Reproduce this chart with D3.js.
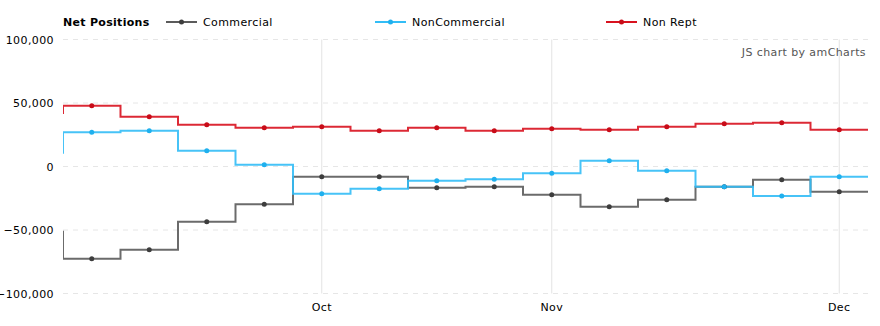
<!DOCTYPE html>
<html>
<head>
<meta charset="utf-8">
<script src="https://cdn.jsdelivr.net/npm/d3@7/dist/d3.min.js"></script>
<style>
  html, body { margin: 0; padding: 0; background: #fff; }
  svg text { font-family: Verdana, "DejaVu Sans", sans-serif; font-size: 11px; letter-spacing: 0.4px; }
</style>
</head>
<body>
<svg id="chart" width="880" height="326"></svg>
<script>
// Weekly report dates (first one only feeds the opening step at the left edge)
const dates = ["2016-08-30", "2016-09-06", "2016-09-13", "2016-09-20", "2016-09-27",
  "2016-10-04", "2016-10-11", "2016-10-18", "2016-10-25", "2016-11-01",
  "2016-11-08", "2016-11-15", "2016-11-22", "2016-11-29", "2016-12-06"];

// Net positions per group
const commercial = [-51300, -72600, -65500, -43500, -29800, -8000, -8000, -16700, -15900,
  -22200, -31700, -26100, -15900, -10400, -19800];
const nonCommercial = [10900, 26900, 28200, 12400, 1400, -21400, -17500, -11200, -10100,
  -5400, 4600, -3300, -15900, -23200, -8000];
const nonRept = [42100, 47900, 39200, 32900, 30500, 31300, 28200, 30600, 28200,
  29800, 29000, 31300, 33700, 34500, 29000];

const seriesNames = ["Commercial", "NonCommercial", "Non Rept"];
const seriesColors = ["#5b5b5b", "#33bdf6", "#d8121f"];
const bulletColors = ["#3d3d3d", "#1fb0ee", "#c80c18"];

const yTicks = [100000, 50000, 0, -50000, -100000];
const monthTickDates = ["2016-10-04", "2016-11-01", "2016-12-06"];
const monthTickLabels = ["Oct", "Nov", "Dec"];

const svg = d3.select("#chart");
const plot = { left: 63, right: 868, top: 39.5, bottom: 293.5 };
const visibleCount = dates.length - 1;
const band = (plot.right - plot.left) / visibleCount;

const x = d3.scaleBand().domain(dates).range([plot.left - band, plot.right]).padding(0);
const y = d3.scaleLinear().domain([-100000, 100000]).range([plot.bottom, plot.top]);

svg.append("defs").append("clipPath").attr("id", "plotClip")
  .append("rect")
  .attr("x", plot.left).attr("y", plot.top - 5)
  .attr("width", plot.right - plot.left).attr("height", plot.bottom - plot.top + 10);

// Horizontal dashed grid
svg.append("g").selectAll("line").data(yTicks).join("line")
  .attr("x1", plot.left).attr("x2", plot.right)
  .attr("y1", d => y(d)).attr("y2", d => y(d))
  .attr("stroke", "#e6e6e6").attr("stroke-width", 1)
  .attr("stroke-dasharray", "5,5");

// Vertical month grid
svg.append("g").selectAll("line").data(monthTickDates).join("line")
  .attr("x1", d => x(d) + x.bandwidth() / 2).attr("x2", d => x(d) + x.bandwidth() / 2)
  .attr("y1", plot.top).attr("y2", plot.bottom)
  .attr("stroke", "#e3e3e3").attr("stroke-width", 1);

// Y axis labels
const yAxis = d3.axisLeft(y).tickValues(yTicks).tickFormat(d3.format(",")).tickSize(0).tickPadding(0);
const yg = svg.append("g").attr("transform", `translate(${plot.left - 9},0)`).call(yAxis);
yg.select(".domain").remove();
yg.selectAll("text").attr("fill", "#000")
  .style("font-family", "Verdana, 'DejaVu Sans', sans-serif")
  .style("font-size", "11px").style("letter-spacing", "0.4px");

// X axis month labels
svg.append("g").selectAll("text").data(monthTickDates).join("text")
  .attr("x", d => x(d) + x.bandwidth() / 2)
  .attr("y", 311)
  .attr("text-anchor", "middle")
  .attr("fill", "#000")
  .text((d, i) => monthTickLabels[i]);

// Step lines
const allSeries = [commercial, nonCommercial, nonRept];
const stepLine = d3.line()
  .x(d => d.x)
  .y(d => y(d.v))
  .curve(d3.curveStepAfter);

const lines = svg.append("g").attr("clip-path", "url(#plotClip)");
allSeries.forEach((vals, si) => {
  const pts = vals.map((v, i) => ({ x: x(dates[i]), v }));
  pts.push({ x: x(dates[dates.length - 1]) + x.bandwidth(), v: vals[vals.length - 1] });
  lines.append("path")
    .attr("d", stepLine(pts))
    .attr("fill", "none")
    .attr("stroke", seriesColors[si])
    .attr("stroke-width", 2)
    .attr("stroke-opacity", 0.9);
});
allSeries.forEach((vals, si) => {
  lines.append("g").selectAll("circle").data(vals).join("circle")
    .attr("cx", (v, i) => x(dates[i]) + x.bandwidth() / 2)
    .attr("cy", v => y(v))
    .attr("r", 2.5)
    .attr("fill", bulletColors[si]);
});

// Legend
const legend = svg.append("g");
legend.append("text").attr("x", 63).attr("y", 26)
  .attr("font-weight", "bold").attr("fill", "#000")
  .style("letter-spacing", "0.3px").text("Net Positions");
const legendX = [166, 375, 606];
seriesNames.forEach((name, i) => {
  const g = legend.append("g").attr("transform", `translate(${legendX[i]},22)`);
  g.append("line").attr("x1", 0).attr("x2", 31).attr("y1", 0).attr("y2", 0)
    .attr("stroke", seriesColors[i]).attr("stroke-width", 2);
  g.append("circle").attr("cx", 15.5).attr("cy", 0).attr("r", 2.5).attr("fill", bulletColors[i]);
  g.append("text").attr("x", 37).attr("y", 4).attr("fill", "#000").text(name);
});

// Credit text
svg.append("text").attr("x", 866).attr("y", 56)
  .attr("text-anchor", "end").attr("fill", "#555")
  .text("JS chart by amCharts");
</script>
</body>
</html>
